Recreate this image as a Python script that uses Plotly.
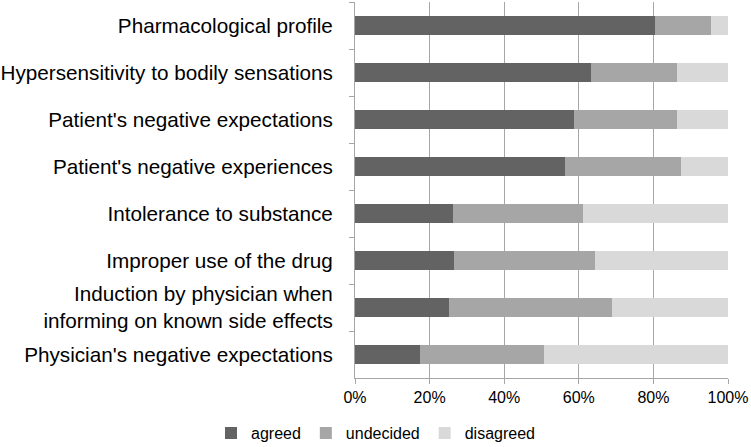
import plotly.graph_objects as go

categories = [
    "Pharmacological profile",
    "Hypersensitivity to bodily sensations",
    "Patient's negative expectations",
    "Patient's negative experiences",
    "Intolerance to substance",
    "Improper use of the drug",
    "Induction by physician when<br>informing on known side effects",
    "Physician's negative expectations",
]
agreed = [80.5, 63.3, 58.7, 56.4, 26.4, 26.5, 25.2, 17.3]
undecided = [15.0, 23.0, 27.6, 31.1, 34.6, 37.9, 43.8, 33.3]
disagreed = [4.5, 13.7, 13.7, 12.5, 39.0, 35.6, 31.0, 49.4]

series = [("agreed", agreed, "#636363"),
          ("undecided", undecided, "#a6a6a6"),
          ("disagreed", disagreed, "#d9d9d9")]

fig = go.Figure()
for name, vals, col in series:
    fig.add_trace(go.Bar(y=categories, x=vals, name=name, orientation="h",
                         marker=dict(color=col, line=dict(width=0))))

font_family = "Liberation Sans, Arial, sans-serif"
fig.update_layout(
    barmode="stack", barnorm="percent", bargap=0.6,
    width=751, height=447,
    margin=dict(l=355, r=23, t=2, b=69),
    plot_bgcolor="white", paper_bgcolor="white",
    font=dict(family=font_family, color="#000000", size=16),
    showlegend=True,
    legend=dict(orientation="h", xref="container", yref="container",
                x=0.5, xanchor="center", y=0.031, yanchor="middle",
                font=dict(size=16, family=font_family, color="#000"),
                itemwidth=30, traceorder="normal", tracegroupgap=0),
    xaxis=dict(range=[0, 100], tickvals=[0, 20, 40, 60, 80, 100],
               ticktext=["0%", "20%", "40%", "60%", "80%", "100%"],
               showgrid=True, gridcolor="#a6a6a6", gridwidth=1,
               showline=True, linecolor="#a6a6a6", linewidth=1,
               ticks="outside", ticklen=5, tickcolor="#a6a6a6",
               tickfont=dict(size=16), zeroline=False, automargin=False),
    yaxis=dict(categoryorder="array", categoryarray=categories,
               autorange="reversed", automargin=False,
               showline=True, linecolor="#a6a6a6", linewidth=1,
               ticks="outside", ticklen=5, tickcolor="#a6a6a6",
               tickson="boundaries", showgrid=False,
               tickfont=dict(size=20.7), ticklabelstandoff=17),
)

fig.write_html("out.html", config={"displayModeBar": False},
               post_script="document.body.style.margin='0';document.body.style.padding='0';")
